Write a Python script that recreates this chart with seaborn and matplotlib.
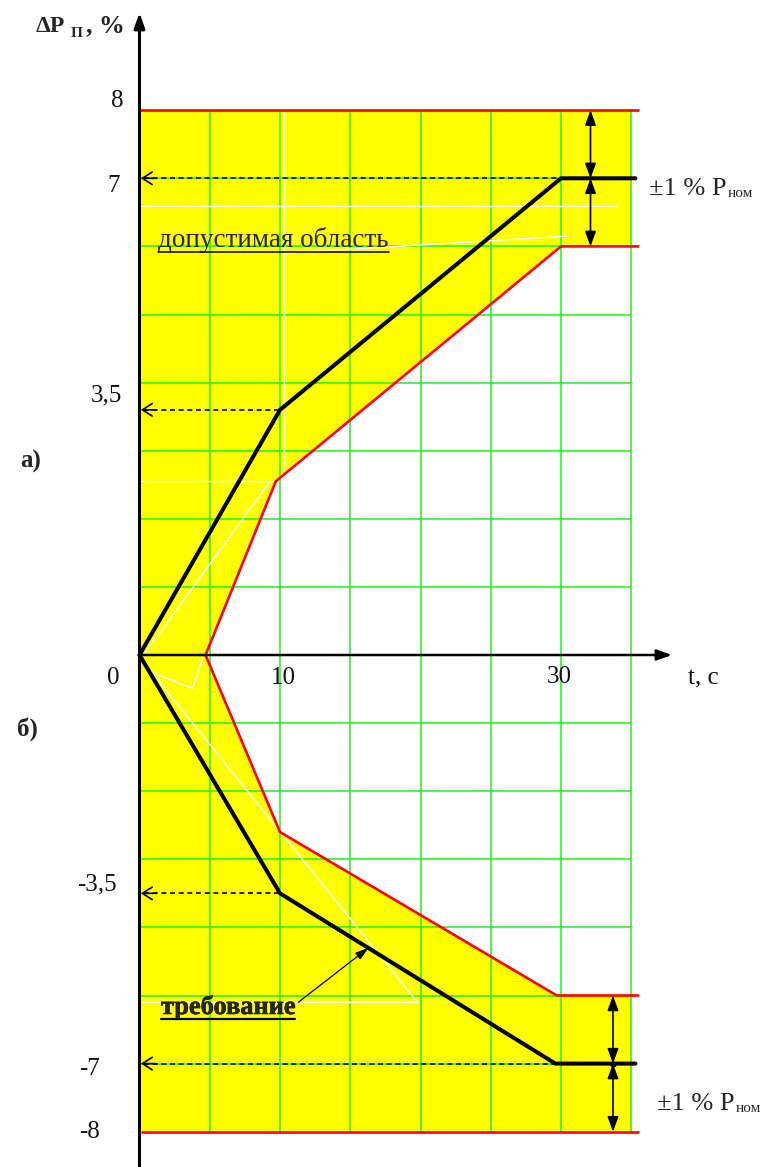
import matplotlib
matplotlib.use('Agg')
import matplotlib.pyplot as plt
import matplotlib.patheffects as pe
from matplotlib.lines import Line2D
import seaborn as sns
import pandas as pd
import numpy as np

W, H = 768, 1167

# grid of the drawing (t in s, dP in %)
grid_t = [0, 5, 10, 15, 20, 25, 30, 35]
grid_p = [-7, -6, -5, -4, -3, -2, -1, 0, 1, 2, 3, 4, 5, 6, 7, 8]

# требование (black)
req_up_t = [0, 10, 30, 35.3]
req_up_p = [0, 3.6, 7, 7]
req_dn_t = [0, 10, 29.6, 35.3]
req_dn_p = [0, -3.5, -6, -6]

# boundary of the allowed area (red)
bnd_up_t = [4.7, 9.7, 30, 35.5]
bnd_up_p = [0, 2.55, 6, 6]
bnd_dn_t = [4.7, 10, 29.7, 35.5]
bnd_dn_p = [0, -2.6, -5, -5]
top_p, bottom_p = 8, -7
edge_t = 35

# tick labels as written on the picture
ytick_vals = [8, 7, 3.6, -3.5, -6, -7]
ytick_text = ['8', '7', '3,5', '-3,5', '-7', '-8']
xtick_vals = [0, 10, 30]
xtick_text = ['0', '10', '30']

# dashed pointers to the axis
dash_t = [30, 10, 10, 29.6]
dash_p = [7, 3.6, -3.5, -6]

# white leftover strokes of the original drawing
white_lines = [
    ([0.05, 33.9], [6.6, 6.6]),
    ([10.3, 10.3], [8, 2.7]),
    ([0, 9.7], [2.55, 2.55]),
    ([0.3, 9.3], [0, 2.55]),
    ([10.3, 30.4], [5.9, 6.15]),
    ([0, 0.9, 3.8, 4.5], [0, -0.26, -0.49, -0.04]),
    ([0.9, 19.8], [-0.26, -5.1]),
    ([0.2, 19.8], [-5.1, -5.1]),
]

sns.set_style('white')
plt.rcParams['font.family'] = ['Liberation Serif', 'DejaVu Serif']

fig = plt.figure(figsize=(W / 100, H / 100), dpi=100)
ax = fig.add_axes([0, 0, 1, 1])
ax.set_xlim(-139.5 / 14.05, (W - 139.5) / 14.05)
ax.set_ylim((655 - H) / 68.1, 655 / 68.1)
ax.axis('off')

YELLOW = '#ffff00'
GREEN = '#1ff01f'
RED = '#ff0000'

# yellow allowed areas
up_edge = np.interp(edge_t, bnd_up_t, bnd_up_p)
dn_edge = np.interp(edge_t, bnd_dn_t, bnd_dn_p)
xs_up = [0] + [t for t in bnd_up_t if t < edge_t] + [edge_t, edge_t, 0]
ys_up = [0] + [p for t, p in zip(bnd_up_t, bnd_up_p) if t < edge_t] + [up_edge, top_p, top_p]
xs_dn = [0] + [t for t in bnd_dn_t if t < edge_t] + [edge_t, edge_t, 0]
ys_dn = [0] + [p for t, p in zip(bnd_dn_t, bnd_dn_p) if t < edge_t] + [dn_edge, bottom_p, bottom_p]
ax.fill(xs_up, ys_up, color=YELLOW, lw=0, zorder=1)
ax.fill(xs_dn, ys_dn, color=YELLOW, lw=0, zorder=1)

# green grid
for t in grid_t[1:]:
    ax.plot([t, t], [bottom_p, top_p], color=GREEN, lw=1.1, zorder=2)
for p in grid_p:
    if p in (0, top_p, bottom_p):
        continue
    ax.plot([0, edge_t], [p, p], color=GREEN, lw=1.1, zorder=2)

for xs, ys in white_lines:
    ax.plot(xs, ys, color='white', lw=1.0, zorder=3)

# red boundaries
for xs, ys in [(bnd_up_t, bnd_up_p), (bnd_dn_t, bnd_dn_p),
               ([0, bnd_up_t[-1]], [top_p, top_p]), ([0.2, bnd_dn_t[-1]], [bottom_p, bottom_p])]:
    sns.lineplot(x=xs, y=ys, sort=False, estimator=None, color=RED, lw=1.9, ax=ax, zorder=4)

# dashed pointers
for t, p in zip(dash_t, dash_p):
    ax.plot([0.3, t], [p, p], color='black', lw=1.2, ls=(0, (3, 2.2)), zorder=5)
    ax.annotate('', xy=(0.1, p), xytext=(1.2, p),
                arrowprops=dict(arrowstyle='->,head_length=0.7,head_width=0.45',
                                lw=1.2, color='black', shrinkA=0, shrinkB=0), zorder=5)

# requirement lines
req = pd.DataFrame({'t': req_up_t + req_dn_t, 'p': req_up_p + req_dn_p,
                    'branch': ['a'] * len(req_up_t) + ['b'] * len(req_dn_t)})
sns.lineplot(data=req, x='t', y='p', units='branch', estimator=None, sort=False,
             color='black', lw=2.9, ax=ax, zorder=6, legend=False)

# axes with arrows
arrow_kw = dict(arrowstyle='-|>,head_length=0.9,head_width=0.32', color='black',
                shrinkA=0, shrinkB=0)
ax.annotate('', xy=(0, 9.43), xytext=(0, -7.6), arrowprops=dict(lw=2.2, **arrow_kw), zorder=7)
ax.annotate('', xy=(37.9, 0), xytext=(0, 0), arrowprops=dict(lw=1.8, **arrow_kw), zorder=7)

# ±1 % double arrows
dbl_kw = dict(arrowstyle='<|-|>,head_length=0.9,head_width=0.33', color='black',
              lw=1.2, shrinkA=0, shrinkB=0)
for t, (p1, p2, p3) in [(32.1, (top_p, 7, 6)), (33.7, (-5, -6, bottom_p))]:
    ax.annotate('', xy=(t, p1), xytext=(t, p2), arrowprops=dbl_kw, zorder=7)
    ax.annotate('', xy=(t, p2), xytext=(t, p3), arrowprops=dbl_kw, zorder=7)
ax.plot([33.7], [-6], 'o', color='black', ms=3.5, zorder=8)

# pointer to the requirement line
ax.annotate('', xy=(16.3, -4.3), xytext=(11.3, -5.1),
            arrowprops=dict(arrowstyle='-|>,head_length=0.8,head_width=0.25',
                            lw=0.9, color='black', shrinkA=0, shrinkB=0), zorder=8)


def put(px, py, s, **kw):
    return fig.text(px / W, 1 - py / H, s, **kw)


def underline(txt, py, lw):
    fig.canvas.draw()
    bb = txt.get_window_extent()
    fig.add_artist(Line2D([bb.x0 / W, bb.x1 / W], [1 - py / H] * 2,
                          transform=fig.transFigure, color='black', lw=lw, zorder=9))


# tick labels
ytick_px = [(117, 101), (114, 186), (106, 395), (97, 884), (90, 1069), (90, 1132)]
for (px, py), s in zip(ytick_px, ytick_text):
    put(px, py, s, ha='center', va='center', fontsize=18, color='#111111')
xtick_px = [(113, 678), (283, 678), (559, 677)]
for (px, py), s in zip(xtick_px, xtick_text):
    put(px, py, s, ha='center', va='center', fontsize=18, color='#111111')
put(703, 678, 't, c', ha='center', va='center', fontsize=18, color='#111111')

# axis title
put(36, 32, 'ΔP', ha='left', va='baseline', fontsize=17, fontweight='bold')
put(71, 37, 'П', ha='left', va='baseline', fontsize=11, fontweight='bold')
put(86, 32, ', %', ha='left', va='baseline', fontsize=18.5, fontweight='bold')

put(31, 461, 'а)', ha='center', va='center', fontsize=18, fontweight='bold')
put(27, 729, 'б)', ha='center', va='center', fontsize=18, fontweight='bold')

# ±1 % Pном
for py in (195, 1110):
    px0 = 649 if py < 600 else 657
    t1 = put(px0, py, '±1 % P', ha='left', va='baseline', fontsize=19)
    fig.canvas.draw()
    x1 = t1.get_window_extent().x1
    put(x1 + 1, py + 2, 'ном', ha='left', va='baseline', fontsize=11)

t_area = put(158, 247, 'допустимая область', ha='left', va='baseline', fontsize=19.5)
underline(t_area, 252, 1.1)
t_req = put(161, 1014, 'требование', ha='left', va='baseline', fontsize=19, fontweight='bold',
            path_effects=[pe.withStroke(linewidth=0.4, foreground='black')])
underline(t_req, 1019, 1.6)

fig.savefig('out.png', dpi=100)
